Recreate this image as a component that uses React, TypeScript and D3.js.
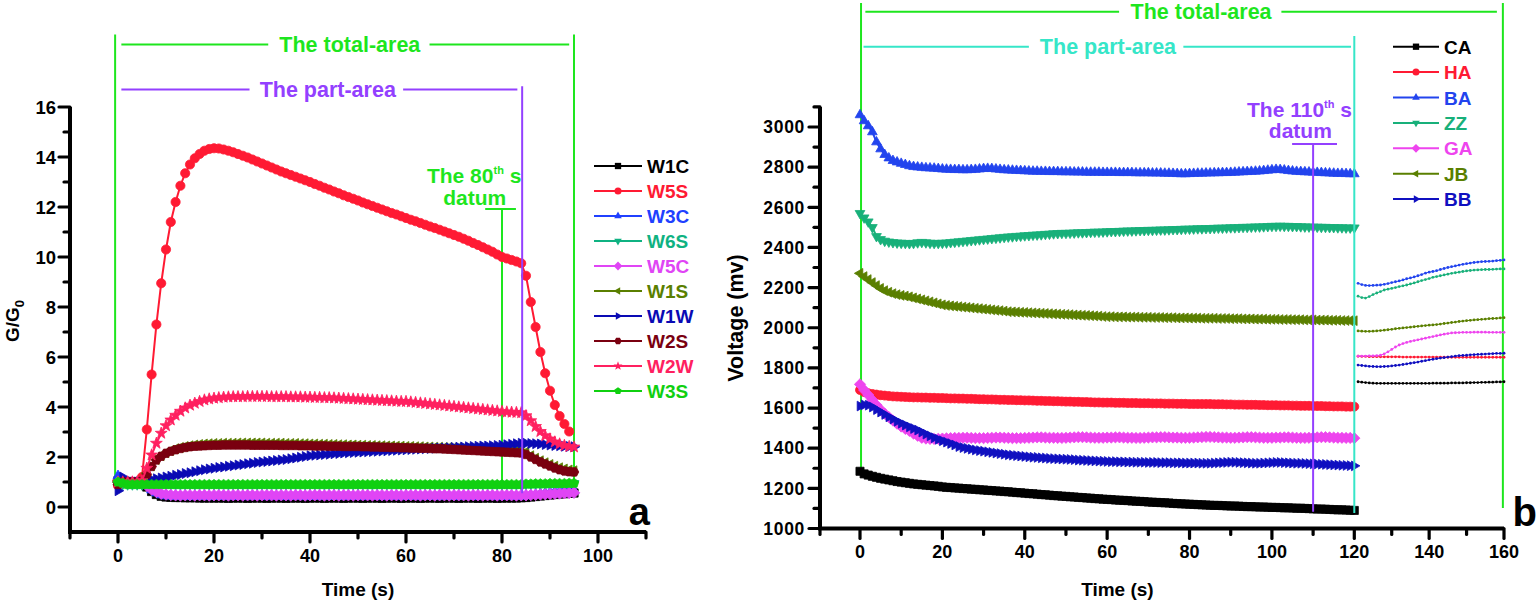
import * as d3 from 'd3';

// ---------- panel a : G/G0, one reading per second from t = 0 ----------
const W1C = [
  1.05, 1, 1, 1, 1, 0.98, 0.8, 0.62, 0.5, 0.43, 0.4,
  0.39, 0.38, 0.38, 0.37, 0.37, 0.37, 0.36, 0.36, 0.36, 0.36,
  0.36, 0.36, 0.35, 0.36, 0.36, 0.36, 0.35, 0.36,
  0.36, 0.36, 0.35, 0.36, 0.36, 0.36, 0.35, 0.36,
  0.36, 0.36, 0.35, 0.36, 0.36, 0.36, 0.35, 0.36,
  0.36, 0.36, 0.35, 0.36, 0.36, 0.36, 0.35, 0.36,
  0.36, 0.36, 0.35, 0.36, 0.36, 0.36, 0.35, 0.36,
  0.36, 0.36, 0.35, 0.36, 0.36, 0.36, 0.35, 0.36,
  0.36, 0.36, 0.35, 0.36, 0.36, 0.36, 0.35, 0.36,
  0.36, 0.36, 0.35, 0.36, 0.36, 0.36, 0.36, 0.37,
  0.38, 0.4, 0.42, 0.44, 0.46, 0.48, 0.5, 0.52, 0.53, 0.55, 0.56,
];
const W5S = [
  0.85, 1, 1, 1, 1, 1.2,
  3.1, 5.3, 7.3, 8.95, 10.3, 11.4, 12.2, 12.85, 13.35, 13.7, 13.95, 14.12, 14.25, 14.32, 14.35,
  14.34, 14.3, 14.25, 14.19, 14.12, 14.05, 13.98, 13.9, 13.82, 13.74,
  13.66, 13.58, 13.5, 13.42, 13.35, 13.28, 13.21, 13.14, 13.07, 13.0,
  12.92, 12.85, 12.77, 12.7, 12.62, 12.55, 12.47, 12.4, 12.33, 12.26,
  12.18, 12.11, 12.04, 11.97, 11.9, 11.83, 11.76, 11.7, 11.63, 11.56,
  11.49, 11.43, 11.36, 11.29, 11.22, 11.16, 11.09, 11.02, 10.95, 10.88,
  10.81, 10.73, 10.65, 10.56, 10.48, 10.39, 10.3, 10.21, 10.1, 10.0,
  9.94, 9.88, 9.82, 9.75,
  9.25, 8.2, 7.2, 6.2, 5.35, 4.65, 4.08, 3.64, 3.32, 3.02,
];
const W3C = [
  1.25, 1, 1, 1, 1, 0.98,
  0.85, 0.68, 0.56, 0.48, 0.44,
  0.43, 0.42, 0.42, 0.42, 0.41, 0.42, 0.42, 0.42, 0.41, 0.42,
  0.42, 0.42, 0.41, 0.42, 0.42, 0.42, 0.41, 0.42,
  0.42, 0.42, 0.41, 0.42, 0.42, 0.42, 0.41, 0.42,
  0.42, 0.42, 0.41, 0.42, 0.42, 0.42, 0.41, 0.42,
  0.42, 0.42, 0.41, 0.42, 0.42, 0.42, 0.41, 0.42,
  0.42, 0.42, 0.41, 0.42, 0.42, 0.42, 0.41, 0.42,
  0.42, 0.42, 0.41, 0.42, 0.42, 0.42, 0.41, 0.42,
  0.42, 0.42, 0.41, 0.42, 0.42, 0.42, 0.41, 0.42,
  0.42, 0.42, 0.41, 0.42, 0.42, 0.42, 0.42, 0.43,
  0.44, 0.47, 0.5, 0.53, 0.56, 0.59, 0.61, 0.63, 0.64, 0.65, 0.66,
];
const W6S = [
  0.95, 0.92,
  0.9, 0.9, 0.9, 0.9, 0.9, 0.9, 0.9, 0.9, 0.9, 0.9,
  0.9, 0.9, 0.9, 0.9, 0.9, 0.9, 0.9, 0.9, 0.9, 0.9,
  0.9, 0.9, 0.9, 0.9, 0.9, 0.9, 0.9, 0.9, 0.9, 0.9,
  0.9, 0.9, 0.9, 0.9, 0.9, 0.9, 0.9, 0.9, 0.9, 0.9,
  0.9, 0.9, 0.9, 0.9, 0.9, 0.9, 0.9, 0.9, 0.9, 0.9,
  0.9, 0.9, 0.9, 0.9, 0.9, 0.9, 0.9, 0.9, 0.9, 0.9,
  0.9, 0.9, 0.9, 0.9, 0.9, 0.9, 0.9, 0.9, 0.9, 0.9,
  0.9, 0.9, 0.9, 0.9, 0.9, 0.9, 0.9, 0.9, 0.9, 0.9,
  0.9, 0.9, 0.9, 0.91, 0.91, 0.92, 0.92, 0.92, 0.93, 0.93,
  0.93, 0.93, 0.94, 0.94,
];
const W5C = [
  1, 1, 1, 1, 1, 0.98,
  0.85, 0.7, 0.6, 0.53, 0.5, 0.48,
  0.47, 0.46, 0.47, 0.47, 0.46, 0.47, 0.47, 0.46, 0.47, 0.47,
  0.47, 0.46, 0.47, 0.47, 0.46, 0.47, 0.47, 0.46, 0.47, 0.47,
  0.47, 0.46, 0.47, 0.47, 0.46, 0.47, 0.47, 0.46, 0.47, 0.47,
  0.47, 0.46, 0.47, 0.47, 0.46, 0.47, 0.47, 0.46, 0.47, 0.47,
  0.47, 0.46, 0.47, 0.47, 0.46, 0.47, 0.47, 0.46, 0.47, 0.47,
  0.47, 0.46, 0.47, 0.47, 0.46, 0.47, 0.47, 0.46, 0.47, 0.47,
  0.47, 0.46, 0.47, 0.47, 0.46, 0.47, 0.47, 0.46, 0.47, 0.47,
  0.47, 0.46, 0.47,
  0.47, 0.48, 0.49, 0.5, 0.51, 0.52, 0.53, 0.54, 0.55, 0.56, 0.57,
];
const W1S = [
  1, 1, 1, 1, 1, 1.02,
  1.35, 1.65, 1.9, 2.05, 2.17, 2.26, 2.33, 2.38, 2.42, 2.45, 2.48, 2.5, 2.52, 2.53,
  2.54, 2.54, 2.55, 2.55, 2.55, 2.56, 2.56, 2.56, 2.56, 2.56, 2.56, 2.55, 2.55, 2.55, 2.55, 2.54, 2.54, 2.54, 2.53, 2.53, 2.52,
  2.52, 2.51, 2.51, 2.5, 2.5, 2.49, 2.49, 2.48, 2.48, 2.47, 2.47, 2.46, 2.46, 2.45, 2.45, 2.44, 2.44, 2.43, 2.43, 2.42,
  2.42, 2.41, 2.41, 2.4, 2.4, 2.39, 2.39, 2.38, 2.38, 2.37, 2.37, 2.36, 2.36, 2.35, 2.35, 2.34, 2.34, 2.33, 2.33, 2.32, 2.32, 2.31, 2.31, 2.3,
  2.2, 2.05, 1.95, 1.85, 1.77, 1.7, 1.63, 1.57, 1.52, 1.48, 1.45,
];
const W1W = [
  0.65, 1.2, 1, 1, 1, 1, 1.05, 1.1, 1.13, 1.16,
  1.2, 1.23, 1.27, 1.3, 1.34, 1.37, 1.41, 1.45, 1.49, 1.52,
  1.55, 1.58, 1.6, 1.63, 1.65, 1.68, 1.7, 1.73, 1.75, 1.78,
  1.8, 1.82, 1.84, 1.86, 1.88, 1.9, 1.93, 1.96, 1.99, 2.02,
  2.05, 2.07, 2.08, 2.1, 2.11, 2.13, 2.14, 2.16, 2.17, 2.18,
  2.19, 2.2, 2.21, 2.22, 2.23, 2.24, 2.25, 2.26, 2.27, 2.28,
  2.29, 2.3, 2.31, 2.32, 2.33, 2.34, 2.35, 2.36, 2.36, 2.37,
  2.38, 2.39, 2.4, 2.41, 2.42, 2.43, 2.44, 2.44, 2.45, 2.46,
  2.47, 2.49, 2.51, 2.53, 2.55, 2.55, 2.54, 2.53, 2.52, 2.5,
  2.48, 2.46, 2.45, 2.43, 2.42, 2.41,
];
const W2S = [
  0.9, 1, 1, 1, 1, 1.02,
  1.3, 1.62, 1.88, 2.03, 2.15, 2.23, 2.29, 2.34, 2.38, 2.41, 2.43, 2.44, 2.45, 2.46,
  2.47, 2.47, 2.48, 2.48, 2.48, 2.48, 2.48, 2.48, 2.47, 2.47, 2.47, 2.47, 2.47, 2.47, 2.46, 2.46,
  2.46, 2.46, 2.45, 2.45, 2.45, 2.44, 2.44, 2.44, 2.43, 2.43, 2.43, 2.42, 2.42, 2.42, 2.42,
  2.41, 2.41, 2.4, 2.4, 2.39, 2.39, 2.38, 2.38, 2.37, 2.37, 2.36, 2.36, 2.35, 2.35, 2.34, 2.33, 2.33, 2.32, 2.31, 2.3,
  2.29, 2.28, 2.27, 2.26, 2.25, 2.24, 2.23, 2.22, 2.21, 2.2, 2.19, 2.18, 2.17, 2.16,
  2.1, 2.0, 1.9, 1.8, 1.72, 1.64, 1.56, 1.49, 1.44, 1.41, 1.4,
];
const W2W = [
  1, 1, 1, 1, 1, 1.05,
  1.55, 2.08, 2.55, 2.95, 3.25, 3.48, 3.67, 3.83, 3.96, 4.07, 4.15, 4.22, 4.28, 4.32, 4.35, 4.37, 4.39, 4.4,
  4.41, 4.41, 4.41, 4.42, 4.42, 4.42, 4.42, 4.42, 4.41, 4.41, 4.41, 4.41, 4.4,
  4.4, 4.4, 4.39, 4.39, 4.38, 4.38, 4.37, 4.37, 4.36,
  4.35, 4.34, 4.33, 4.32, 4.31, 4.3, 4.29, 4.28, 4.27, 4.26, 4.25, 4.24, 4.23, 4.22, 4.22,
  4.2, 4.18, 4.16, 4.14, 4.12, 4.1, 4.08, 4.06, 4.04, 4.02, 4.0, 3.98, 3.96, 3.94, 3.92, 3.9, 3.88, 3.86, 3.84, 3.82,
  3.8, 3.79, 3.78, 3.77,
  3.65, 3.45, 3.22, 3.02, 2.85, 2.72, 2.6, 2.52, 2.46, 2.42, 2.4,
];
const W3S = [
  1.0, 0.95,
  0.9, 0.9, 0.9, 0.9, 0.9, 0.9, 0.9, 0.9, 0.9, 0.9,
  0.9, 0.9, 0.9, 0.9, 0.9, 0.9, 0.9, 0.9, 0.9, 0.9,
  0.9, 0.9, 0.9, 0.9, 0.9, 0.9, 0.9, 0.9, 0.9, 0.9,
  0.9, 0.9, 0.9, 0.9, 0.9, 0.9, 0.9, 0.9, 0.9, 0.9,
  0.9, 0.9, 0.9, 0.9, 0.9, 0.9, 0.9, 0.9, 0.9, 0.9,
  0.9, 0.9, 0.9, 0.9, 0.9, 0.9, 0.9, 0.9, 0.9, 0.9,
  0.9, 0.9, 0.9, 0.9, 0.9, 0.9, 0.9, 0.9, 0.9, 0.9,
  0.9, 0.9, 0.9, 0.9, 0.9, 0.9, 0.9, 0.9, 0.9, 0.9,
  0.9, 0.9, 0.9,
  0.92, 0.92, 0.93, 0.93, 0.93, 0.94, 0.94, 0.94, 0.94, 0.95, 0.95,
];

const A_NAMES = ['W1C', 'W5S', 'W3C', 'W6S', 'W5C', 'W1S', 'W1W', 'W2S', 'W2W', 'W3S'];
const A_VALUES = [W1C, W5S, W3C, W6S, W5C, W1S, W1W, W2S, W2W, W3S];

// ---------- panel b : voltage (mv), one reading per second from t = 0 to 120 ----------
const CA = [
  1285, 1272, 1266, 1260, 1255, 1250, 1246, 1242, 1238, 1234, 1231, 1228, 1225,
  1222, 1220, 1218, 1216, 1214, 1212, 1210, 1207,
  1205, 1204, 1202, 1201, 1199, 1198, 1196, 1195, 1193, 1192, 1190, 1189, 1187, 1186, 1184, 1183,
  1181, 1179, 1178, 1176, 1174, 1173, 1171, 1169, 1168, 1166, 1164, 1163,
  1161, 1160, 1158, 1157, 1155, 1154, 1152, 1151, 1149, 1148, 1146, 1145,
  1144, 1142, 1141, 1140, 1139, 1137, 1136, 1135, 1134, 1132, 1131, 1130,
  1129, 1128, 1127, 1125, 1124, 1123, 1122, 1121, 1120, 1119, 1118, 1117,
  1116, 1115, 1115, 1114, 1113, 1112, 1112, 1111, 1110, 1109, 1109, 1108,
  1107, 1107, 1106, 1105, 1105, 1104, 1103, 1103, 1102, 1101, 1101, 1100,
  1099, 1098, 1097, 1097, 1096, 1095, 1094, 1093, 1093, 1092, 1091, 1090,
];
const HA = [
  1690, 1680, 1674, 1670, 1667, 1664, 1662, 1660, 1658, 1657, 1656, 1655, 1654,
  1653, 1653, 1652, 1652, 1651, 1651, 1650, 1650, 1649, 1648, 1648, 1647, 1647, 1646, 1646, 1645, 1644, 1644, 1643, 1643, 1642, 1641, 1641, 1640,
  1640, 1639, 1639, 1638, 1638, 1637, 1636, 1636, 1635, 1635, 1634, 1634, 1633, 1632, 1632, 1631, 1631, 1630, 1630, 1629, 1628, 1628, 1627, 1627,
  1627, 1626, 1626, 1626, 1625, 1625, 1625, 1624, 1624, 1624, 1623, 1623, 1623, 1622, 1622, 1622, 1621, 1621, 1621, 1620, 1620, 1620, 1620, 1620,
  1620, 1619, 1619, 1619, 1618, 1618, 1617, 1617, 1617, 1616, 1616, 1616, 1615, 1615, 1614, 1614, 1614, 1613,
  1613, 1613, 1612, 1612, 1611, 1611, 1611, 1610, 1610, 1610, 1609, 1609, 1608, 1608, 1608, 1607, 1607, 1607,
];
const BA = [
  3060, 3030, 3005, 2975, 2925, 2890, 2862, 2845, 2832, 2825, 2818, 2812, 2806, 2802, 2800, 2798, 2796, 2795, 2794, 2792, 2790,
  2789, 2788, 2787, 2787, 2786, 2786, 2787, 2788, 2790, 2792, 2793, 2792, 2790, 2788, 2786, 2785, 2784, 2783, 2782, 2781,
  2780, 2779, 2779, 2778, 2778, 2777, 2777, 2777, 2776, 2776, 2776, 2775, 2775, 2775, 2774, 2774, 2774, 2774, 2773, 2773,
  2773, 2773, 2772, 2772, 2772, 2772, 2771, 2771, 2771, 2771, 2770, 2770, 2770, 2769, 2769, 2768, 2767, 2766, 2766, 2767,
  2768, 2769, 2769, 2770, 2770, 2771, 2771, 2772, 2772, 2773, 2774, 2775, 2776, 2777, 2778, 2779, 2780, 2782, 2784, 2786,
  2788, 2787, 2785, 2782, 2780, 2778, 2777, 2776, 2775, 2774, 2773, 2772, 2771, 2770, 2769, 2768, 2768, 2767, 2766, 2766,
];
const ZZ = [
  2570, 2548, 2528, 2500, 2455, 2440, 2432, 2428, 2425, 2423, 2422, 2421, 2420,
  2421, 2424, 2426, 2424, 2422, 2421, 2421, 2422, 2423, 2425, 2427, 2429,
  2431, 2433, 2435, 2437, 2439, 2441, 2443, 2445, 2447, 2449, 2451, 2453,
  2454, 2456, 2457, 2459, 2460, 2462, 2463, 2464, 2466, 2467, 2469, 2470,
  2471, 2471, 2472, 2473, 2474, 2474, 2475, 2476, 2477, 2477, 2478, 2479,
  2480, 2480, 2481, 2482, 2483, 2483, 2484, 2485, 2485, 2486, 2486, 2487,
  2488, 2488, 2489, 2490, 2490, 2491, 2492, 2492, 2493, 2494, 2494, 2495,
  2495, 2496, 2497, 2497, 2498, 2499, 2499, 2500, 2501, 2501, 2502, 2503, 2503, 2504, 2505, 2506, 2506, 2507,
  2506, 2506, 2505, 2505, 2504, 2503, 2503, 2502, 2502, 2501, 2501, 2500, 2500, 2499, 2499, 2498, 2498, 2498,
];
const GA = [
  1718, 1690, 1665, 1640, 1615, 1592, 1572, 1555, 1538, 1522, 1508, 1496, 1486, 1473, 1462, 1452, 1448, 1446, 1446, 1447,
  1448, 1449, 1450, 1451, 1451, 1452, 1452, 1451, 1450, 1450,
  1450, 1451, 1452, 1453, 1453, 1452, 1451, 1450, 1450, 1450,
  1451, 1452, 1453, 1454, 1454, 1453, 1452, 1452, 1451, 1451,
  1452, 1453, 1454, 1455, 1455, 1454, 1453, 1452, 1452, 1452,
  1453, 1453, 1454, 1454, 1453, 1452, 1452, 1451, 1451, 1452,
  1453, 1454, 1454, 1455, 1455, 1454, 1453, 1453, 1452, 1452,
  1452, 1453, 1454, 1455, 1456, 1456, 1455, 1454, 1453, 1453,
  1452, 1452, 1453, 1454, 1455, 1455, 1454, 1453, 1452, 1452,
  1452, 1453, 1453, 1454, 1454, 1453, 1452, 1451, 1451, 1452,
  1453, 1454, 1455, 1455, 1454, 1453, 1452, 1452, 1451, 1451, 1450,
];
const JB = [
  2271, 2255, 2240, 2225, 2210, 2196, 2185, 2177, 2170, 2165, 2161, 2158, 2154,
  2149, 2144, 2139, 2134, 2129, 2124, 2119, 2114,
  2111, 2109, 2107, 2105, 2103, 2101, 2099, 2097, 2095, 2093, 2091, 2089, 2087, 2085, 2083, 2080,
  2079, 2078, 2077, 2076, 2075, 2074, 2073, 2072, 2071, 2070, 2069, 2068, 2067, 2066, 2065, 2064, 2063, 2062, 2061, 2060, 2059, 2058, 2056, 2055,
  2055, 2054, 2054, 2054, 2053, 2053, 2053, 2052, 2052, 2052, 2051, 2051, 2051, 2050, 2050, 2050, 2049, 2049, 2049, 2048, 2048, 2048, 2047, 2047,
  2047, 2047, 2046, 2046, 2046, 2045, 2045, 2045, 2044, 2044, 2044, 2043, 2043, 2043, 2042, 2042, 2042, 2041,
  2041, 2041, 2040, 2040, 2040, 2039, 2039, 2039, 2038, 2038, 2038, 2037, 2037, 2037, 2036, 2036, 2035, 2035,
];
const BB = [
  1610, 1616, 1614, 1605, 1592, 1580, 1568, 1556, 1545, 1534, 1524, 1515, 1506,
  1498, 1490, 1480, 1470, 1461, 1452, 1444, 1437, 1430, 1423, 1416, 1408,
  1403, 1399, 1395, 1391, 1388, 1385, 1382, 1379, 1376, 1373, 1370, 1367,
  1365, 1363, 1361, 1359, 1357, 1355, 1354, 1352, 1351, 1349, 1348, 1347, 1346, 1345, 1344, 1343, 1341, 1340, 1339, 1338, 1337, 1336, 1335, 1334,
  1333, 1333, 1332, 1332, 1331, 1331, 1330, 1330, 1330, 1329, 1329, 1329, 1328, 1328, 1328, 1327, 1327, 1327, 1326, 1326, 1326, 1326, 1325, 1325,
  1325, 1326, 1327, 1328, 1329, 1330, 1330, 1329, 1328, 1327, 1326, 1325, 1325, 1326, 1327, 1328, 1329, 1329, 1328, 1327, 1326, 1325, 1325, 1324,
  1323, 1322, 1321, 1320, 1319, 1318, 1317, 1316, 1315, 1314, 1313, 1312,
];

// recovery part after 120 s, one reading per second from t = 121 to 160
const CA_TAIL = [
  1731, 1729, 1727, 1725, 1724, 1723, 1723, 1723, 1723, 1723, 1723, 1723, 1723, 1723, 1723, 1723, 1723, 1723, 1723, 1723,
  1724, 1724, 1724, 1724, 1724, 1725, 1725, 1725, 1725, 1726, 1726, 1727, 1727, 1728, 1728, 1729, 1729, 1730, 1730, 1731,
];
const HA_TAIL = [
  1858, 1857, 1857, 1856, 1856, 1856, 1855, 1855, 1855, 1855, 1855, 1855, 1854, 1854, 1854, 1854, 1854, 1854, 1854, 1854,
  1854, 1854, 1854, 1853, 1853, 1853, 1853, 1853, 1853, 1853, 1853, 1853, 1853, 1853, 1853, 1853, 1853, 1853, 1853, 1853,
];
const BA_TAIL = [
  2221, 2215, 2211, 2210, 2211, 2212, 2213, 2216, 2220, 2225, 2229, 2233, 2238, 2244, 2248, 2253, 2259, 2265, 2272, 2277,
  2280, 2284, 2290, 2295, 2300, 2304, 2308, 2312, 2316, 2319, 2322, 2325, 2327, 2329, 2330, 2331, 2332, 2334, 2336, 2338,
];
const ZZ_TAIL = [
  2157, 2150, 2148, 2155, 2165, 2173, 2180, 2188, 2192, 2196, 2200, 2205, 2209, 2213, 2218, 2223, 2229, 2235, 2240, 2245,
  2251, 2255, 2259, 2263, 2267, 2271, 2274, 2277, 2280, 2283, 2285, 2287, 2288, 2289, 2290, 2290, 2291, 2292, 2293, 2293,
];
const GA_TAIL = [
  1859, 1859, 1859, 1860, 1860, 1861, 1863, 1870, 1880, 1892, 1904, 1914, 1921, 1927, 1932, 1936, 1940, 1944, 1948, 1952,
  1956, 1960, 1964, 1968, 1971, 1974, 1975, 1976, 1977, 1977, 1977, 1978, 1978, 1978, 1978, 1977, 1977, 1977, 1977, 1977,
];
const JB_TAIL = [
  1984, 1983, 1982, 1982, 1983, 1984, 1986, 1988, 1990, 1992, 1995, 1997, 1999, 2001, 2003, 2005, 2007, 2009, 2011, 2013,
  2014, 2016, 2018, 2021, 2023, 2026, 2028, 2031, 2033, 2035, 2037, 2039, 2040, 2042, 2043, 2045, 2046, 2047, 2049, 2050,
];
const BB_TAIL = [
  1814, 1812, 1810, 1808, 1807, 1806, 1806, 1807, 1808, 1810, 1812, 1814, 1817, 1820, 1823, 1826, 1829, 1833, 1836, 1840,
  1843, 1846, 1849, 1851, 1854, 1856, 1859, 1861, 1862, 1863, 1865, 1866, 1867, 1868, 1869, 1870, 1871, 1872, 1872, 1873,
];

const B_NAMES = ['CA', 'HA', 'BA', 'ZZ', 'GA', 'JB', 'BB'];
const B_VALUES = [CA, HA, BA, ZZ, GA, JB, BB];
const B_TAILS = [CA_TAIL, HA_TAIL, BA_TAIL, ZZ_TAIL, GA_TAIL, JB_TAIL, BB_TAIL];
const TAIL_START = 121;

// ---------- ticks ----------
const A_X_TICKS = [0, 20, 40, 60, 80, 100];
const A_X_MINOR = [-10, 10, 30, 50, 70, 90, 110];
const A_Y_TICKS = [0, 2, 4, 6, 8, 10, 12, 14, 16];
const A_Y_MINOR = [1, 3, 5, 7, 9, 11, 13, 15];
const B_X_TICKS = [0, 20, 40, 60, 80, 100, 120, 140, 160];
const B_X_MINOR = [-10, 10, 30, 50, 70, 90, 110, 130, 150];
const B_Y_TICKS = [1000, 1200, 1400, 1600, 1800, 2000, 2200, 2400, 2600, 2800, 3000];
const B_Y_MINOR = [1100, 1300, 1500, 1700, 1900, 2100, 2300, 2500, 2700, 2900, 3100];

// ---------- styles ----------
const COLORS: Record<string, string> = {
  W1C: '#000000', W5S: '#ff1a33', W3C: '#2040ff', W6S: '#0fb282', W5C: '#e045f5',
  W1S: '#5a7f00', W1W: '#0a0ab4', W2S: '#7a0010', W2W: '#ff2060', W3S: '#10d010',
  CA: '#000000', HA: '#ff1a33', BA: '#2244ee', ZZ: '#18b07a', GA: '#ee44ee', JB: '#5a7f00', BB: '#1010c0',
};
const SYMBOLS: Record<string, string> = {
  W1C: 'square', W5S: 'circle', W3C: 'up', W6S: 'down', W5C: 'diamond',
  W1S: 'left', W1W: 'right', W2S: 'hexagon', W2W: 'star', W3S: 'pentagon',
  CA: 'square', HA: 'circle', BA: 'up', ZZ: 'down', GA: 'diamond', JB: 'left', BB: 'right',
};
const GREEN = '#1ee61e';
const PURPLE = '#9340ff';
const TURQUOISE = '#36e6c8';
const FONT = '"Liberation Sans", Arial, Helvetica, sans-serif';

const xA = d3.scaleLinear().domain([-10, 110]).range([70, 646]);
const yA = d3.scaleLinear().domain([-1, 16]).range([532, 107]);
const xB = d3.scaleLinear().domain([-10, 0, 120, 160]).range([820, 860, 1354.3, 1504]);
const yB = d3.scaleLinear().domain([1000, 3100]).range([528.5, 106.9]);

function poly(n: number, r: number, rot: number, inner = 0): string {
  const pts: string[] = [];
  const steps = inner ? n * 2 : n;
  for (let k = 0; k < steps; k++) {
    const a = rot + (k * Math.PI * 2) / steps;
    const rr = inner && k % 2 ? inner : r;
    pts.push(`${(rr * Math.cos(a)).toFixed(2)},${(rr * Math.sin(a)).toFixed(2)}`);
  }
  return `M${pts.join('L')}Z`;
}

function markerPath(kind: string, r: number): string {
  switch (kind) {
    case 'square': return `M${-r * 0.9},${-r * 0.9}h${r * 1.8}v${r * 1.8}h${-r * 1.8}Z`;
    case 'circle': return `M${-r},0a${r},${r} 0 1,0 ${2 * r},0a${r},${r} 0 1,0 ${-2 * r},0Z`;
    case 'up': return poly(3, r * 1.25, -Math.PI / 2);
    case 'down': return poly(3, r * 1.25, Math.PI / 2);
    case 'left': return poly(3, r * 1.25, Math.PI);
    case 'right': return poly(3, r * 1.25, 0);
    case 'diamond': return poly(4, r * 1.25, -Math.PI / 2);
    case 'hexagon': return poly(6, r * 1.05, 0);
    case 'star': return poly(5, r * 1.35, -Math.PI / 2, r * 0.55);
    default: return poly(5, r * 1.1, -Math.PI / 2);
  }
}

function Series({ name, values, x, y, t0, r, width }: {
  name: string; values: number[]; x: (v: number) => number; y: (v: number) => number;
  t0: number; r: number; width: number;
}) {
  const color = COLORS[name];
  const line = d3.line<number>().x((_, i) => x(t0 + i)).y((d) => y(d));
  const d = markerPath(SYMBOLS[name], r);
  return (
    <g>
      <path d={line(values) ?? ''} fill="none" stroke={color} strokeWidth={width} />
      {values.map((v, i) => (
        <path key={i} d={d} transform={`translate(${x(t0 + i)},${y(v)})`} fill={color} stroke={color} strokeWidth={0.8} />
      ))}
    </g>
  );
}

function Tail({ name, values }: { name: string; values: number[] }) {
  const color = COLORS[name];
  const line = d3.line<number>().x((_, i) => xB(TAIL_START + i)).y((d) => yB(d));
  return (
    <g>
      <path d={line(values) ?? ''} fill="none" stroke={color} strokeWidth={1} />
      {values.map((v, i) => (
        <circle key={i} cx={xB(TAIL_START + i)} cy={yB(v)} r={1.4} fill={color} />
      ))}
    </g>
  );
}

function Axes({ x, y, xTicks, xMinor, yTicks, yMinor, x0, x1, y0, y1, yLabelX, xLabelY, yFont, ySpacing }: {
  x: (v: number) => number; y: (v: number) => number; xTicks: number[]; xMinor: number[];
  yTicks: number[]; yMinor: number[]; x0: number; x1: number; y0: number; y1: number;
  yLabelX: number; xLabelY: number; yFont: number; ySpacing: number;
}) {
  const ax = x(x0);
  const ay = y(y0);
  return (
    <g stroke="#000" strokeLinecap="round">
      {xTicks.map((t) => <line key={`xt${t}`} x1={x(t)} x2={x(t)} y1={ay} y2={ay + 10} strokeWidth={3.2} />)}
      {xMinor.map((t) => <line key={`xm${t}`} x1={x(t)} x2={x(t)} y1={ay} y2={ay + 6} strokeWidth={3.2} />)}
      {yTicks.map((t) => <line key={`yt${t}`} x1={ax} x2={ax - 11} y1={y(t)} y2={y(t)} strokeWidth={3.2} />)}
      {yMinor.map((t) => <line key={`ym${t}`} x1={ax} x2={ax - 6} y1={y(t)} y2={y(t)} strokeWidth={3.2} />)}
      <path d={`M${ax},${y(y1)}V${ay}H${x(x1)}`} fill="none" strokeWidth={4} strokeLinecap="butt" strokeLinejoin="miter" />
      <g stroke="none" fill="#000" fontSize={18}>
        {xTicks.map((t) => <text key={`xl${t}`} x={x(t)} y={xLabelY} textAnchor="middle">{t}</text>)}
      </g>
      <g stroke="none" fill="#000" fontSize={yFont} letterSpacing={ySpacing}>
        {yTicks.map((t) => <text key={`yl${t}`} x={yLabelX} y={y(t)} dy="0.36em" textAnchor="end">{t}</text>)}
      </g>
    </g>
  );
}

function Legend({ names, x0, y0, step, lineLen }: { names: string[]; x0: number; y0: number; step: number; lineLen: number }) {
  return (
    <g fontSize={19}>
      {names.map((n, i) => {
        const cy = y0 + i * step;
        return (
          <g key={n}>
            <line x1={x0} x2={x0 + lineLen} y1={cy} y2={cy} stroke={COLORS[n]} strokeWidth={2} />
            <path d={markerPath(SYMBOLS[n], 3.5)} transform={`translate(${x0 + lineLen / 2},${cy})`} fill={COLORS[n]} />
            <text x={x0 + lineLen + 5} y={cy + 7} fill={COLORS[n]}>{n}</text>
          </g>
        );
      })}
    </g>
  );
}

export default function App() {
  return (
    <div>
      <style>{'body{margin:0;background:#fff}'}</style>
      <svg width={1540} height={605} style={{ display: 'block', background: '#fff' }} fontFamily={FONT} fontWeight="bold">
        {/* ---------------- panel a ---------------- */}
        <Axes x={xA} y={yA} xTicks={A_X_TICKS} xMinor={A_X_MINOR} yTicks={A_Y_TICKS} yMinor={A_Y_MINOR}
          x0={-10} x1={110} y0={-1} y1={16} yLabelX={56} xLabelY={562} yFont={18.5} ySpacing={0} />

        {/* annotation lines behind the curves */}
        <g stroke={GREEN} strokeWidth={2}>
          <line x1={xA(-0.6)} x2={xA(-0.6)} y1={yA(18.9)} y2={yA(0.8)} />
          <line x1={xA(95)} x2={xA(95)} y1={yA(18.9)} y2={yA(0.4)} />
          <line x1={xA(0.7)} x2={xA(31.3)} y1={yA(18.5)} y2={yA(18.5)} />
          <line x1={xA(64.9)} x2={xA(94)} y1={yA(18.5)} y2={yA(18.5)} />
          <line x1={xA(80)} x2={xA(80)} y1={yA(11.92)} y2={yA(0.28)} />
          <line x1={xA(76.5)} x2={xA(82.9)} y1={yA(11.92)} y2={yA(11.92)} />
        </g>
        <g stroke={PURPLE} strokeWidth={2}>
          <line x1={xA(0.7)} x2={xA(27.4)} y1={yA(16.7)} y2={yA(16.7)} />
          <line x1={xA(59.4)} x2={xA(83.2)} y1={yA(16.7)} y2={yA(16.7)} />
        </g>

        {A_NAMES.map((n, i) => (
          <Series key={n} name={n} values={A_VALUES[i]} x={xA} y={yA} t0={0} r={4.6} width={2} />
        ))}

        <line x1={xA(84.2)} x2={xA(84.2)} y1={yA(16.83)} y2={yA(0.55)} stroke={PURPLE} strokeWidth={2} />

        <g fontSize={21.5} textAnchor="middle">
          <text x={xA(48.3)} y={yA(18.5) + 7.5} fill={GREEN}>The total-area</text>
          <text x={xA(43.7)} y={yA(16.7) + 7} fill={PURPLE}>The part-area</text>
          <text x={xA(74.2)} y={yA(12.96)} fill={GREEN} fontSize={21}>
            The 80<tspan fontSize={11} dy={-9}>th</tspan><tspan dy={9}> s</tspan>
          </text>
          <text x={xA(74.3)} y={yA(12.08)} fill={GREEN} fontSize={21}>datum</text>
        </g>

        <Legend names={A_NAMES} x0={594} y0={166} step={25} lineLen={48} />

        <text x={19} y={321} transform="rotate(-90 19 321)" textAnchor="middle" fontSize={19}>
          G/G<tspan fontSize={13} dy={5}>0</tspan>
        </text>
        <text x={xA(50)} y={596} textAnchor="middle" fontSize={19}>Time (s)</text>
        <text x={650} y={525} textAnchor="end" fontSize={38}>a</text>

        {/* ---------------- panel b ---------------- */}
        <Axes x={xB} y={yB} xTicks={B_X_TICKS} xMinor={B_X_MINOR} yTicks={B_Y_TICKS} yMinor={B_Y_MINOR}
          x0={-10} x1={160} y0={1000} y1={3100} yLabelX={805} xLabelY={558} yFont={17.5} ySpacing={0.7} />

        <g stroke={GREEN} strokeWidth={2}>
          <line x1={xB(0.25)} x2={xB(0.25)} y1={yB(3617)} y2={yB(1283)} />
          <line x1={xB(159.7)} x2={xB(159.7)} y1={yB(3617)} y2={yB(1102)} />
          <line x1={xB(1.3)} x2={xB(62.9)} y1={yB(3574)} y2={yB(3574)} />
          <line x1={xB(102.3)} x2={xB(158.1)} y1={yB(3574)} y2={yB(3574)} />
        </g>
        <g stroke={TURQUOISE} strokeWidth={2}>
          <line x1={xB(0.85)} x2={xB(41)} y1={yB(3400)} y2={yB(3400)} />
          <line x1={xB(78.5)} x2={xB(119.2)} y1={yB(3400)} y2={yB(3400)} />
        </g>
        <line x1={xB(104.9)} x2={xB(115.8)} y1={yB(2915)} y2={yB(2915)} stroke={PURPLE} strokeWidth={2} />

        {B_NAMES.map((n, i) => (
          <Series key={n} name={n} values={B_VALUES[i]} x={xB} y={yB} t0={0} r={4.5} width={2} />
        ))}
        {B_NAMES.map((n, i) => <Tail key={`t${n}`} name={n} values={B_TAILS[i]} />)}

        <line x1={xB(110)} x2={xB(110)} y1={yB(2915)} y2={yB(1084)} stroke={PURPLE} strokeWidth={2} />
        <line x1={xB(120)} x2={xB(120)} y1={yB(3453)} y2={yB(1077)} stroke={TURQUOISE} strokeWidth={2} />

        <g fontSize={21.5} textAnchor="middle">
          <text x={xB(82.8)} y={yB(3574) + 7.5} fill={GREEN}>The total-area</text>
          <text x={xB(60.2)} y={yB(3400) + 7} fill={TURQUOISE}>The part-area</text>
          <text x={xB(106.7)} y={yB(3048)} fill={PURPLE} fontSize={21}>
            The 110<tspan fontSize={11} dy={-9}>th</tspan><tspan dy={9}> s</tspan>
          </text>
          <text x={xB(106.9)} y={yB(2944)} fill={PURPLE} fontSize={21}>datum</text>
        </g>

        <Legend names={B_NAMES} x0={1393} y0={46.7} step={25.4} lineLen={46} />

        <text x={743} y={318} transform="rotate(-90 743 318)" textAnchor="middle" fontSize={21.5}>Voltage (mv)</text>
        <text x={xB(62.5)} y={596} textAnchor="middle" fontSize={19}>Time (s)</text>
        <text x={1537} y={526} textAnchor="end" fontSize={40}>b</text>
      </svg>
    </div>
  );
}
